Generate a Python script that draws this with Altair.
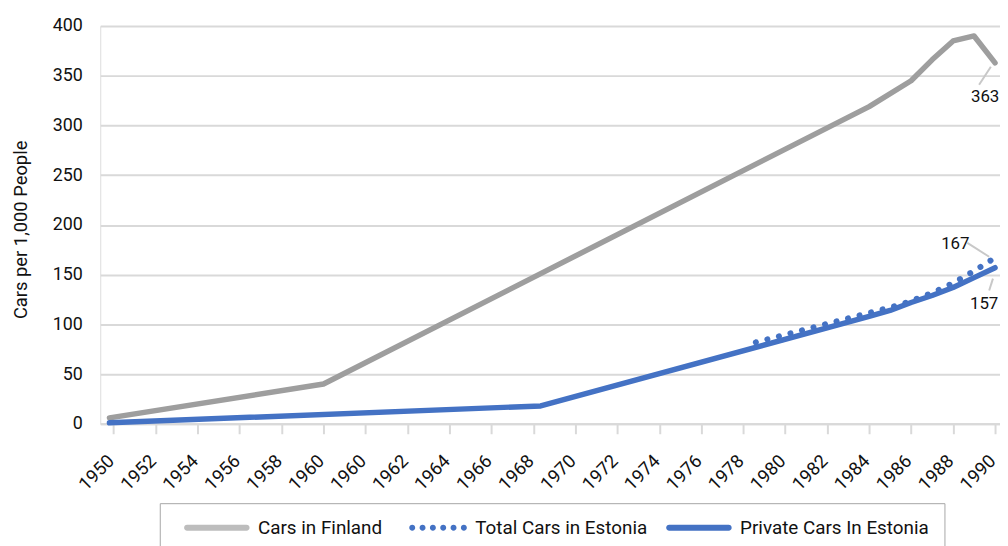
import altair as alt
import pandas as pd

# ---- data ----
tick_labels = ["1950", "1952", "1954", "1956", "1958", "1960", "1960", "1962",
               "1964", "1966", "1968", "1970", "1972", "1974", "1976", "1978",
               "1980", "1982", "1984", "1986", "1988", "1990"]

series_names = ["Cars in Finland", "Total Cars in Estonia", "Private Cars In Estonia"]

finland_years = [1949.8, 1960, 1984, 1986, 1987, 1988, 1989, 1990]
finland_values = [6, 40, 319, 345, 366, 385, 390, 363]

total_est_years = [1978.6, 1984, 1985, 1986, 1987, 1988, 1989, 1990]
total_est_values = [82, 111.5, 117, 123.5, 131.6, 141.5, 153.7, 167]

private_est_years = [1949.8, 1968.35, 1984, 1985, 1986, 1987, 1988, 1989, 1990]
private_est_values = [1, 18, 108, 114, 122, 129, 137, 147, 157]

# ---- build table ----
rows = []
for name, yrs, vals in [
    (series_names[0], finland_years, finland_values),
    (series_names[1], total_est_years, total_est_values),
    (series_names[2], private_est_years, private_est_values),
]:
    for yr, v in zip(yrs, vals):
        rows.append({"series": name, "year": yr, "value": v})
df = pd.DataFrame(rows)

GRAY = "#9e9e9e"
GRAY_LEG = "#bdbdbd"
BLUE = "#4472c4"
GRID = "#d9d9d9"
FONT = "Roboto"
TXT = "#111111"

# category-axis position: the axis repeats "1960", so years after 1960 sit one slot later
pos_expr = "datum.year <= 1960 ? (datum.year - 1950) / 2 : 6 + (datum.year - 1960) / 2"

label_array = "[" + ",".join("'" + t + "'" for t in tick_labels) + "]"

x_enc = alt.X(
    "pos:Q",
    scale=alt.Scale(domain=[-0.319, 21.118], nice=False, zero=False),
    axis=alt.Axis(
        title=None,
        values=list(range(len(tick_labels))),
        labelExpr=label_array + "[datum.value]",
        labelAngle=315,
        labelAlign="right",
        labelBaseline="middle",
        labelPadding=24,
        labelOffset=-3,
        labelFont=FONT,
        labelFontSize=18.5,
        labelColor=TXT,
        grid=False,
        ticks=True,
        tickSize=10,
        tickColor=GRID,
        tickWidth=2,
        domain=True,
        domainColor=GRID,
        domainWidth=2,
        labelOverlap=False,
    ),
)
y_enc = alt.Y(
    "value:Q",
    scale=alt.Scale(domain=[0, 400], nice=False),
    axis=alt.Axis(
        title="Cars per 1,000 People",
        values=list(range(0, 401, 50)),
        labelFont=FONT,
        labelFontSize=18,
        labelColor=TXT,
        labelPadding=18,
        ticks=False,
        tickSize=0,
        domain=False,
        grid=True,
        gridColor=GRID,
        gridWidth=2,
        titleFont=FONT,
        titleFontSize=18.5,
        titleFontWeight="normal",
        titleColor=TXT,
        titleX=-80,
        titleY=205,
        titleAngle=270,
        titleBaseline="middle",
    ),
)

base = alt.Chart(df).transform_calculate(pos=pos_expr)

finland_line = base.transform_filter(alt.datum.series == series_names[0]).mark_line(
    color=GRAY, strokeWidth=5.5, strokeCap="round", strokeJoin="round"
).encode(x=x_enc, y=y_enc)

total_line = base.transform_filter(alt.datum.series == series_names[1]).mark_line(
    color=BLUE, strokeWidth=6, strokeCap="round", strokeDash=[0.1, 11.9]
).encode(x=x_enc, y=y_enc)

private_line = base.transform_filter(alt.datum.series == series_names[2]).mark_line(
    color=BLUE, strokeWidth=5.5, strokeCap="round", strokeJoin="round"
).encode(x=x_enc, y=y_enc)

# legend symbols: custom paths in units of sqrt(size)/2 = 3 px
pill = "M-1.33,-1 L18.67,-1 A1,1 0 0 1 18.67,1 L-1.33,1 A1,1 0 0 1 -1.33,-1 Z"
dots = ""
for i in range(6):
    cx = 1.33 + i * 3.47
    dots += f"M{cx - 1:.3f},0 A1,1 0 1 0 {cx + 1:.3f},0 A1,1 0 1 0 {cx - 1:.3f},0 Z "

legend = alt.Legend(
    title=None,
    orient="none",
    legendX=60,
    legendY=481,
    direction="horizontal",
    strokeColor="#a6a6a6",
    padding=15,
    symbolOffset=7,
    symbolSize=36,
    symbolStrokeWidth=0,
    labelOffset=58,
    labelLimit=400,
    columnPadding=9,
    labelFont=FONT,
    labelFontSize=19,
    labelColor=TXT,
)

legend_layer = base.transform_filter("datum.value < 0").mark_point(
    filled=True, opacity=1, size=36
).encode(
    x=x_enc,
    y=y_enc,
    color=alt.Color("series:N", scale=alt.Scale(domain=series_names, range=[GRAY_LEG, BLUE, BLUE]),
                    legend=legend),
    shape=alt.Shape("series:N", scale=alt.Scale(domain=series_names, range=[pill, dots.strip(), pill]),
                    legend=legend),
)

# end-value annotations
end_df = df.sort_values("year").groupby("series", as_index=False).last()
ann = alt.Chart(end_df).transform_calculate(pos=pos_expr)


def end_label(name, dx, dy):
    return ann.transform_filter(alt.datum.series == name).mark_text(
        dx=dx, dy=dy, font=FONT, fontSize=17, color=TXT, align="center", baseline="middle"
    ).encode(x=x_enc, y=y_enc, text=alt.Text("value:Q", format=".0f"))


def leader(name, p1, v1, p2, v2):
    return ann.transform_filter(alt.datum.series == name).transform_calculate(
        lp1=f"datum.pos + ({p1})", lv1=f"datum.value + ({v1})",
        lp2=f"datum.pos + ({p2})", lv2=f"datum.value + ({v2})",
    ).mark_rule(color="#c8c8c8", strokeWidth=2).encode(
        x=alt.X("lp1:Q"), y=alt.Y("lv1:Q"), x2="lp2:Q", y2="lv2:Q"
    )


layers = [
    finland_line,
    total_line,
    private_line,
    leader(series_names[0], -0.1, -4, -0.38, -22),
    leader(series_names[1], -0.14, 1, -0.66, 15),
    leader(series_names[2], -0.05, -11, -0.14, -23),
    end_label(series_names[0], -10, 35),
    end_label(series_names[1], -40, -14),
    end_label(series_names[2], -11, 37),
    legend_layer,
]

chart = alt.layer(*layers).properties(
    width=907,
    height=401,
    padding={"left": 93, "top": 16, "right": 0, "bottom": 121},
    autosize=alt.AutoSizeParams(type="none"),
).configure_view(stroke=None).configure(background="white")

chart.save("out.html", embed_options={"renderer": "svg", "actions": False})
